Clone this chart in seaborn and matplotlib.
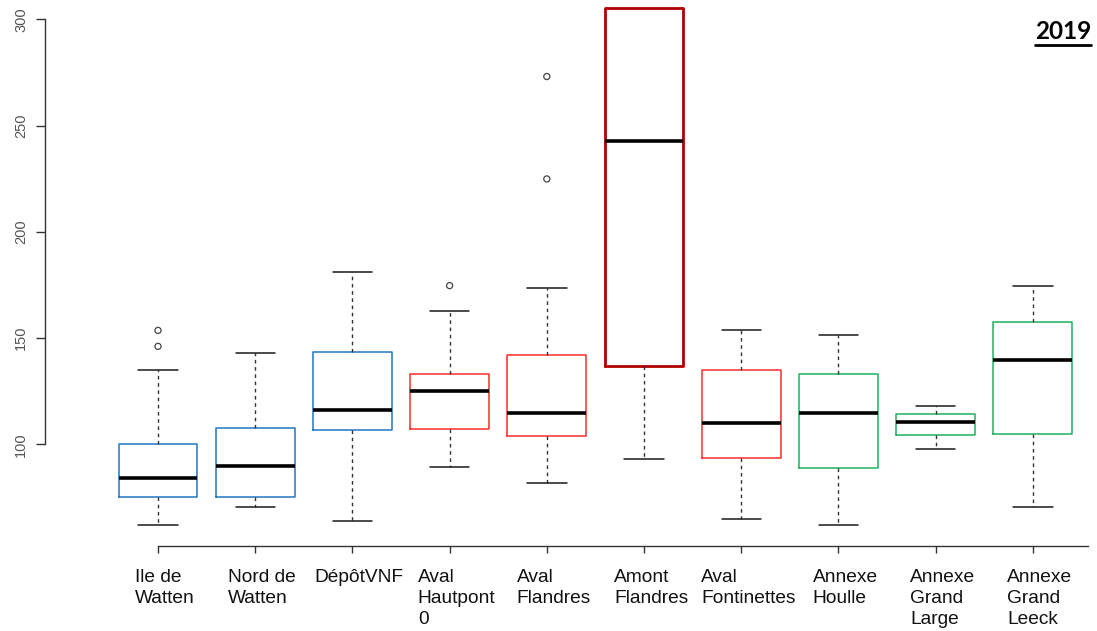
import numpy as np
import pandas as pd
import matplotlib
matplotlib.use("Agg")
import matplotlib.pyplot as plt
import matplotlib.transforms as mtransforms
from matplotlib.lines import Line2D
from matplotlib.collections import PathCollection
import seaborn as sns

# Sampling sites and their tick labels
site_names = ["Ile de Watten", "Nord de Watten", "DépôtVNF", "Aval Hautpont 0",
              "Aval Flandres", "Amont Flandres", "Aval Fontinettes", "Annexe Houlle",
              "Annexe Grand Large", "Annexe Grand Leeck"]
tick_labels = ["Ile de\nWatten", "Nord de\nWatten", "DépôtVNF", "Aval\nHautpont\n0",
               "Aval\nFlandres", "Amont\nFlandres", "Aval\nFontinettes", "Annexe\nHoulle",
               "Annexe\nGrand\nLarge", "Annexe\nGrand\nLeeck"]

# Five-number summaries per site (2019)
whisker_low = [61.8, 70.6, 64.0, 89.5, 81.9, 92.9, 64.8, 61.8, 98.0, 70.3]
quartile_1 = [75.0, 75.3, 106.8, 107.1, 103.8, 136.9, 93.7, 88.7, 104.6, 105.0]
medians = [84.1, 89.6, 116.0, 125.2, 114.8, 242.6, 110.1, 114.6, 110.4, 139.8]
quartile_3 = [100.0, 107.9, 143.5, 132.9, 142.0, 305.2, 134.9, 133.0, 114.2, 157.4]
whisker_high = [134.8, 142.8, 180.9, 162.9, 173.7, 305.2, 153.6, 151.6, 117.9, 174.7]

# Points beyond the whiskers
outlier_sites = ["Ile de Watten", "Ile de Watten", "Aval Hautpont 0",
                 "Aval Flandres", "Aval Flandres"]
outlier_values = [146.1, 153.6, 174.7, 224.9, 273.1]

# Box outline colours by site group
box_colors = ["#1F77C4", "#1F77C4", "#1F77C4", "#FF2B2B", "#FF2B2B",
              "#B00000", "#FF2B2B", "#1DB25C", "#1DB25C", "#1DB25C"]

y_ticks = [100, 150, 200, 250, 300]

sns.set_theme(style="white")
plt.rcParams["font.family"] = ["Liberation Sans", "DejaVu Sans"]

# Long-form table: each site contributes its five summary values,
# whose quartiles (linear interpolation) reproduce the summary exactly.
rows = []
for name, lo, a, m, b, hi in zip(site_names, whisker_low, quartile_1, medians,
                                 quartile_3, whisker_high):
    for v in (lo, a, m, b, hi):
        rows.append((name, v))
df = pd.DataFrame(rows, columns=["site", "value"])
out_df = pd.DataFrame({"site": outlier_sites, "value": outlier_values})

fig = plt.figure(figsize=(10.97, 6.31), dpi=100)
ax = fig.add_axes([45 / 1097, 85 / 631, 1052 / 1097, 543 / 631])

sns.boxplot(
    data=df, x="site", y="value", hue="site",
    order=site_names, hue_order=site_names,
    palette=dict(zip(site_names, box_colors)),
    fill=False, width=0.81, whis=(0, 100), linewidth=1.1,
    medianprops=dict(color="black", linewidth=2.6),
    whiskerprops=dict(color="#333333", linestyle=(0, (2.6, 2.6)), linewidth=1.0),
    capprops=dict(color="#1a1a1a", linewidth=1.1),
    showfliers=False, legend=False, ax=ax,
)

# Heavier outline for the Amont Flandres box; its upper whisker runs off the chart
for name, cont in zip(site_names, ax.containers):
    if name == "Amont Flandres":
        for box in cont.boxes:
            box.set_linewidth(2.0)
        cont.caps[1].set_visible(False)

sns.stripplot(data=out_df, x="site", y="value", order=site_names,
              jitter=False, size=4.4, ax=ax, zorder=5,
              color="#444444", linewidth=0.9, edgecolor="#444444")
for coll in ax.collections:
    if isinstance(coll, PathCollection):
        coll.set_facecolor("none")
        coll.set_edgecolor("#444444")
        coll.set_linewidth(0.9)

ax.set_xlim(-1.1626, 9.660)
ax.set_ylim(52.14, 307.7)
ax.set_xlabel("")
ax.set_ylabel("")

for side in ("top", "right"):
    ax.spines[side].set_visible(False)
ax.spines["left"].set_bounds(100, 300)
ax.spines["bottom"].set_bounds(0, 9.57)
for side in ("left", "bottom"):
    ax.spines[side].set_color("#333333")
    ax.spines[side].set_linewidth(1.0)

ax.set_yticks(y_ticks)
ax.set_yticklabels([str(t) for t in y_ticks], rotation=90, va="center")
ax.tick_params(axis="y", direction="out", length=6.5, width=1.0, color="#333333",
               labelsize=10.5, labelcolor="#555555", pad=5.5, left=True)

ax.set_xticks(range(len(site_names)))
ax.set_xticklabels(tick_labels)
ax.tick_params(axis="x", direction="out", length=5, width=1.0, color="#333333",
               labelsize=13.8, labelcolor="#111111", pad=11.5, bottom=True)
shift = mtransforms.ScaledTranslation(7 / 100, 0, fig.dpi_scale_trans)
for lab in ax.get_xticklabels():
    lab.set_multialignment("left")
    lab.set_linespacing(1.3)
    lab.set_transform(lab.get_transform() + shift)

title = fig.text(1091 / 1097, 1 - 20 / 631, "2019", ha="right", va="top",
                 fontsize=17.5, fontweight="bold", family=["Lato", "DejaVu Sans"],
                 color="black")
fig.canvas.draw()
bb = title.get_window_extent()
fig.add_artist(Line2D([bb.x0, bb.x1], [bb.y0 - 2.0, bb.y0 - 2.0],
                      transform=None, color="black", linewidth=2.0))

fig.savefig("out.png", dpi=100)
